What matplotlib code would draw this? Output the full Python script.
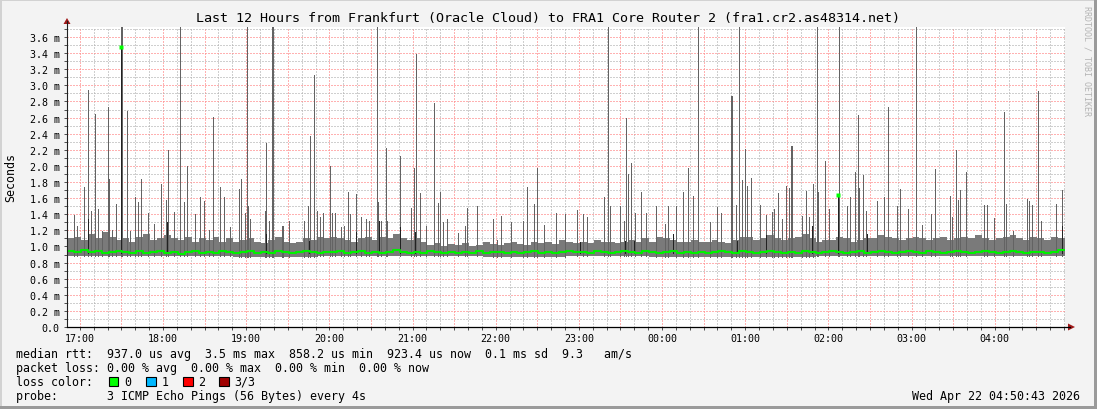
import matplotlib
matplotlib.use("Agg")
import matplotlib.pyplot as plt
from matplotlib.patches import Rectangle, Polygon

# time axis in minutes after 17:00
t_start = -9.28   # 16:50:43
t_end = 710.72    # 04:50:43
step = 5          # minutes per sample of the base band / median

hour_labels = ["17:00", "18:00", "19:00", "20:00", "21:00", "22:00",
               "23:00", "00:00", "01:00", "02:00", "03:00", "04:00"]

# top of the dense smoke band (ms), every 5 minutes
band_top = [
    1.10, 1.12, 1.08, 1.15, 1.10, 1.18, 1.12, 1.08,
    1.10, 1.06, 1.12, 1.15, 1.08, 1.10,
    1.14, 1.10, 1.08, 1.12, 1.06, 1.10,
    1.08, 1.12, 1.06, 1.10, 1.05, 1.08,
    1.10, 1.06, 1.04, 1.08, 1.12, 1.05,
    1.04, 1.06, 1.10, 1.08, 1.12, 1.10,
    1.12, 1.10, 1.08, 1.06, 1.10, 1.12,
    1.08, 1.12, 1.10, 1.15, 1.10, 1.08,
    1.10, 1.05, 1.02, 1.04, 1.00, 1.03,
    1.02, 1.04, 1.00, 1.02, 1.05, 1.03,
    1.02, 1.04, 1.06, 1.03, 1.02, 1.05,
    1.04, 1.06, 1.03, 1.08, 1.05, 1.04,
    1.06, 1.04, 1.08, 1.06, 1.05, 1.04,
    1.05, 1.08, 1.06, 1.10, 1.06, 1.12,
    1.10, 1.08, 1.06, 1.05, 1.08, 1.06,
    1.05, 1.08, 1.06, 1.04, 1.08, 1.12,
    1.12, 1.08, 1.10, 1.14, 1.10, 1.08,
    1.10, 1.12, 1.15, 1.10, 1.06, 1.08,
    1.08, 1.12, 1.10, 1.06, 1.08, 1.10,
    1.10, 1.14, 1.12, 1.10, 1.08, 1.10,
    1.12, 1.10, 1.08, 1.10, 1.12, 1.08,
    1.10, 1.12, 1.10, 1.14, 1.10, 1.08,
    1.10, 1.12, 1.14, 1.10, 1.08, 1.12,
    1.10, 1.08, 1.12, 1.10,
]

# median rtt (ms), every 5 minutes
median = [
    0.94, 0.93, 0.95, 0.93, 0.94, 0.92, 0.93, 0.94,
    0.93, 0.92, 0.94, 0.92, 0.93, 0.94,
    0.92, 0.93, 0.91, 0.93, 0.94, 0.92,
    0.93, 0.92, 0.94, 0.93, 0.92, 0.93,
    0.94, 0.92, 0.93, 0.92, 0.94, 0.93,
    0.92, 0.93, 0.94, 0.93, 0.92, 0.93,
    0.93, 0.94, 0.92, 0.93, 0.94, 0.92,
    0.93, 0.92, 0.93, 0.95, 0.93, 0.92,
    0.93, 0.92, 0.94, 0.93, 0.92, 0.93,
    0.92, 0.93, 0.92, 0.94, 0.92, 0.93,
    0.93, 0.92, 0.93, 0.92, 0.93, 0.94,
    0.92, 0.93, 0.92, 0.93, 0.94, 0.93,
    0.93, 0.92, 0.94, 0.93, 0.92, 0.93,
    0.94, 0.93, 0.92, 0.94, 0.93, 0.92,
    0.93, 0.94, 0.92, 0.93, 0.92, 0.93,
    0.92, 0.93, 0.94, 0.93, 0.92, 0.94,
    0.93, 0.92, 0.93, 0.94, 0.93, 0.92,
    0.93, 0.92, 0.94, 0.93, 0.92, 0.93,
    0.94, 0.93, 0.92, 0.93, 0.94, 0.92,
    0.93, 0.94, 0.93, 0.92, 0.93, 0.94,
    0.93, 0.92, 0.94, 0.93, 0.92, 0.93,
    0.94, 0.93, 0.92, 0.93, 0.94, 0.93,
    0.92, 0.93, 0.94, 0.93, 0.92, 0.93,
    0.93, 0.92, 0.93, 0.95,
]

# bottom of the smoke (ms), one value per hour from 16:50
smoke_low = [0.88, 0.88, 0.87, 0.88, 0.88, 0.87, 0.88, 0.87, 0.87, 0.88, 0.88, 0.88]

# smoke spikes: minutes after 17:00 and top (ms); tall ones run off the top
spike_t = [
    -4.5, 2.9, 6.0, 7.9, 11.0, 12.8, 20.2, 20.7, 26.0, 29.8, 30.3, 34.1,
    39.9, 41.8, 44.2, 49.0, 58.6, 62.0, 63.5, 68.0, 72.3, 75.2, 77.2, 86.8,
    95.9, 100.8, 104.1, 114.7, 116.6, 120.7, 121.4, 133.6, 134.4, 138.5, 139.2,
    164.9, 165.7, 169.0, 180.1, 180.8, 193.5, 199.3, 214.2, 220.5, 230.6,
    238.7, 240.9, 242.5, 245.4, 255.5, 259.8, 279.6, 286.5, 322.6, 327.6, 329.6,
    349.8, 358.7, 378.1, 381.0, 394.0, 395.4, 397.9, 405.1, 435.1, 438.7, 442.3,
    445.9, 469.5, 470.2, 475.5, 477.4, 479.8, 481.5, 484.4, 503.6, 509.2, 511.8,
    513.3, 514.0, 529.1, 531.5, 537.3, 547.2, 547.6, 558.9, 561.3, 565.0, 580.1,
    583.0, 591.6, 603.2, 617.1, 627.7, 632.0, 634.9, 639.2, 666.6, 683.0, 691.4,
    708.9,
    # smaller ones
    -2.2, 15.9, 23.1, 36.3, 53.6, 83.2, 89.9, 93.5, 108.4, 119.0, 122.4, 136.8,
    145.5, 146.9, 150.7, 161.5, 170.9, 173.3, 175.2, 181.7, 183.9, 188.5, 190.9,
    194.9, 202.9, 206.5, 208.9, 215.1, 217.6, 221.4, 249.8, 258.4, 262.0, 264.9,
    272.8, 278.2, 298.1, 300.7, 303.8, 311.3, 319.7, 334.9, 343.8, 362.8, 365.6,
    382.5, 389.4, 392.6, 400.3, 408.7, 415.9, 421.9, 424.3, 430.3, 454.4, 459.4,
    462.8, 473.1, 490.6, 495.3, 499.1, 500.8, 506.8, 521.0, 523.8, 526.0, 532.5,
    540.7, 553.2, 555.6, 562.1, 567.4, 574.8, 589.2, 597.7, 607.5, 614.0, 628.9,
    633.7, 652.2, 654.1, 659.4, 667.9, 673.0, 684.5, 686.6, 693.1, 704.2, 710.7,
]
spike_v = [
    1.39, 1.74, 2.94, 1.44, 2.64, 1.46, 2.73, 1.84, 1.53, 3.90, 3.90, 2.68,
    1.61, 1.55, 1.84, 1.42, 1.78, 1.58, 2.20, 1.43, 3.90, 1.55, 2.00, 1.61,
    2.61, 1.74, 1.61, 1.71, 1.84, 3.90, 1.50, 1.44, 2.28, 3.90, 3.90,
    1.50, 2.37, 3.13, 2.00, 2.00, 1.68, 1.65, 3.90, 2.22, 2.12,
    1.48, 1.97, 3.39, 1.66, 2.78, 1.68, 1.48, 1.50, 1.74, 1.53, 1.97,
    1.40, 1.45, 1.61, 3.90, 2.59, 1.90, 2.03, 1.68, 1.68, 1.97, 1.63,
    3.90, 2.87, 2.87, 3.90, 1.83, 2.21, 1.75, 1.85, 1.66, 1.75, 1.73,
    2.25, 2.25, 1.78, 3.90, 2.06, 1.64, 3.90, 1.92, 2.63, 1.89, 1.61,
    2.73, 1.71, 3.90, 1.96, 1.63, 2.20, 1.70, 1.92, 2.67, 1.59, 2.93,
    1.70,
    1.26, 1.19, 1.21, 1.19, 1.28, 1.40, 1.57, 1.20, 1.24, 1.42, 1.34, 1.32,
    1.26, 1.26, 1.32, 1.32, 1.44, 1.36, 1.42, 1.42, 1.42, 1.24, 1.26,
    1.40, 1.36, 1.34, 1.32, 1.55, 1.32, 1.32, 1.26, 1.54, 1.30, 1.34,
    1.17, 1.26, 1.34, 1.08, 1.38, 1.30, 1.32, 1.27, 1.42, 1.40, 1.36,
    1.50, 1.50, 1.32, 1.42, 1.42, 1.50, 1.28, 1.50, 1.50, 1.30, 1.49,
    1.41, 1.51, 1.51, 1.39, 1.43, 1.47, 1.34, 1.38, 1.69, 1.36, 1.68,
    1.46, 1.50, 1.61, 1.73, 1.44, 1.56, 1.50, 1.46, 1.27, 1.40, 1.36,
    1.58, 1.51, 1.51, 1.35, 1.53, 1.19, 1.56, 1.51, 1.31, 1.53, 1.27,
]

# darker smoke (several pings high at once)
dark_t = [6.0, 29.8, 63.0, 134.4, 165.0, 199.3, 216.1, 230.6, 242.0, 361.0,
          393.5, 399.5, 427.9, 473.8, 494.7, 528.4, 547.2, 568.1, 708.9]
dark_v = [1.34, 3.48, 1.30, 1.15, 1.07, 1.18, 1.32, 1.24, 1.18, 1.05,
          1.07, 1.07, 1.16, 1.07, 1.14, 1.26, 1.64, 1.16, 1.26]

# single median samples that jumped up
median_peak_t = [29.8, 547.2]
median_peak_v = [3.48, 1.64]

title = "Last 12 Hours from Frankfurt (Oracle Cloud) to FRA1 Core Router 2 (fra1.cr2.as48314.net)"
legend_lines = [
    "median rtt:  937.0 us avg  3.5 ms max  858.2 us min  923.4 us now  0.1 ms sd  9.3   am/s",
    "packet loss: 0.00 % avg  0.00 % max  0.00 % min  0.00 % now",
    "loss color:",
    "probe:       3 ICMP Echo Pings (56 Bytes) every 4s",
]
loss_labels = ["0", "1", "2", "3/3"]
loss_colors = ["#00ff00", "#00b8ff", "#ff0000", "#a00000"]
stamp = "Wed Apr 22 04:50:43 2026"

MONO = "DejaVu Sans Mono"
W, H = 1097, 410

fig = plt.figure(figsize=(W / 100, H / 100), dpi=100, facecolor="#f3f3f3")
ax = fig.add_axes([67 / W, 82 / H, 998 / W, 300 / H])
ax.set_facecolor("white")

# grid first, the smoke covers it
dots = (0, (1.4, 1.4))
for m in range(0, 711, 10):
    if m % 30 == 0:
        ax.axvline(m, color="#ff9090", alpha=0.7, lw=0.72, ls=dots, antialiased=False, zorder=1)
    else:
        ax.axvline(m, color="#b0b0b0", alpha=0.6, lw=0.72, ls=dots, antialiased=False, zorder=1)
for k in range(1, 38):
    v = k * 0.1
    if k % 2 == 0:
        ax.axhline(v, color="#ff9090", alpha=0.7, lw=0.72, ls=dots, antialiased=False, zorder=1)
    else:
        ax.axhline(v, color="#b0b0b0", alpha=0.6, lw=0.72, ls=dots, antialiased=False, zorder=1)

# base smoke band
edges = [t_start + i * step for i in range(len(band_top) + 1)]
low_band = [smoke_low[min(int((e - t_start) // 60), len(smoke_low) - 1)] for e in edges]
ax.fill_between(edges, low_band, band_top + [band_top[-1]], step="post",
                color="#7a7a7a", lw=0, zorder=2)

# spikes
spike_low = [smoke_low[min(int(max(t - t_start, 0) // 60), len(smoke_low) - 1)] for t in spike_t]
ax.vlines(spike_t, spike_low, spike_v, color="#636363", lw=0.72, antialiased=False, zorder=3)

# darker smoke
ax.vlines(dark_t, [0.92] * len(dark_t), dark_v, color="#222222", lw=0.72,
          antialiased=False, zorder=4)

ax.set_xlim(t_start, t_end)
ax.set_ylim(0, 3.7245)

# median line
ax.step(edges, median + [median[-1]], where="post", color="#00f000", lw=1.5, zorder=8)
ax.plot(median_peak_t, median_peak_v, ls="none", marker="s", ms=2.2,
        mec="none", color="#00ff00", zorder=9)

ax.set_xticks([60 * i for i in range(len(hour_labels))])
ax.set_xticklabels(hour_labels)
ax.set_xticks(list(range(0, 711, 10)), minor=True)
yt = [round(0.2 * k, 1) for k in range(19)]
ax.set_yticks(yt)
ax.set_yticklabels(["0.0"] + ["%.1f m" % v for v in yt[1:]])
ax.set_yticks([0.1 * k for k in range(38)], minor=True)
ax.tick_params(which="both", direction="out", length=2.2, width=0.6, color="#333333",
               labelsize=7.2, pad=2.2)
ax.tick_params(axis="y", pad=3)
for lab in ax.get_xticklabels() + ax.get_yticklabels():
    lab.set_family(MONO)
for s in ["top", "right", "left", "bottom"]:
    ax.spines[s].set_visible(False)

# overlay in pixel coordinates for frame, axes arrows and text
ov = fig.add_axes([0, 0, 1, 1])
ov.set_xlim(0, W)
ov.set_ylim(H, 0)
ov.axis("off")
ov.patch.set_visible(False)

ov.plot([67, 67], [328, 22], color="#202020", lw=0.8)
ov.plot([67, 1070], [328, 328], color="#000000", lw=0.9)
ov.add_patch(Polygon([[63.5, 25], [70.5, 25], [67, 19]], closed=True, color="#a01818", lw=0))
ov.add_patch(Polygon([[1068, 324.5], [1068, 331.5], [1075, 328]], closed=True, color="#a01818", lw=0))

# outer frame
ov.add_patch(Rectangle((0, 0), W, 2, color="#d2d2d2", lw=0))
ov.add_patch(Rectangle((0, 0), 2, H, color="#d2d2d2", lw=0))
ov.add_patch(Rectangle((0, H - 3), W, 3, color="#9a9a9a", lw=0))
ov.add_patch(Rectangle((W - 3, 0), 3, H, color="#9a9a9a", lw=0))

ov.text(548.5, 18.5, title, ha="center", va="center", fontsize=9.6, family=MONO, color="#000000")
ov.text(11, 178, "Seconds", ha="center", va="center", rotation=90, fontsize=8.4,
        family=MONO, color="#000000")
ov.text(1087, 6, "RRDTOOL / TOBI OETIKER", ha="center", va="top", rotation=270,
        fontsize=6.0, family=MONO, color="#b4b4b4")

ys = [354.5, 368.5, 382.5, 396.5]
for line, y in zip(legend_lines, ys):
    ov.text(16, y, line, ha="left", va="center", fontsize=8.4, family=MONO, color="#000000")
box_x = [108.5, 146, 183, 219]
for bx, col, lab in zip(box_x, loss_colors, loss_labels):
    ov.add_patch(Rectangle((bx, 377.5), 9.5, 9.5, facecolor=col, edgecolor="#000000", lw=0.8))
    ov.text(bx + 15.5, 382.5, lab, ha="left", va="center", fontsize=8.4, family=MONO)
ov.text(1080, 396.5, stamp, ha="right", va="center", fontsize=8.4, family=MONO, color="#000000")

fig.savefig("out.png", dpi=100, facecolor=fig.get_facecolor())
